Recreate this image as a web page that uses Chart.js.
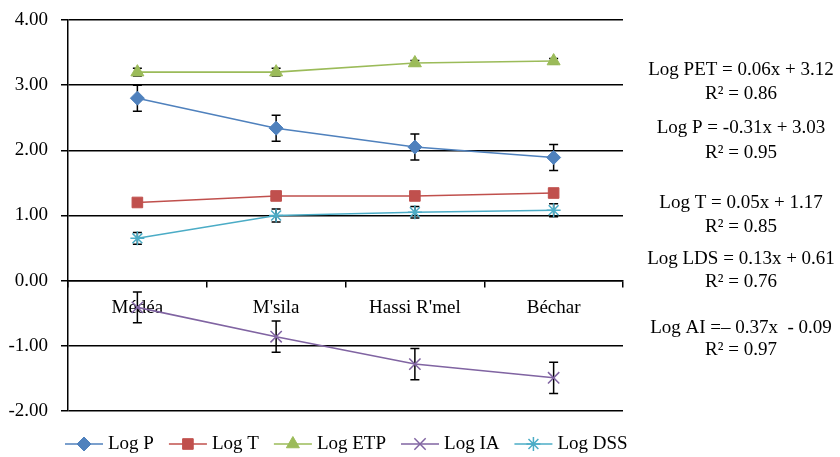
<!DOCTYPE html>
<html>
<head>
<meta charset="utf-8">
<script src="https://cdn.jsdelivr.net/npm/chart.js@4.4.0/dist/chart.umd.min.js"></script>
<style>
  html, body { margin: 0; padding: 0; background: #fff; }
  #wrap { width: 840px; height: 457px; }
</style>
</head>
<body>
<div id="wrap"><canvas id="chart"></canvas></div>
<script>
// ====== DATA ======
const sites = ["Médéa", "M'sila", "Hassi R'mel", "Béchar"];

const logP   = [2.80, 2.34, 2.05, 1.89];
const logT   = [1.20, 1.30, 1.30, 1.345];
const logETP = [3.20, 3.20, 3.34, 3.37];
const logIA  = [-0.41, -0.86, -1.28, -1.49];
const logDSS = [0.65, 1.00, 1.05, 1.08];

// error bar half-heights
const errP   = [0.20, 0.20, 0.20, 0.20];
const errT   = [0.03, 0.03, 0.03, 0.03];
const errETP = [0.06, 0.06, 0.04, 0.04];
const errIA  = [0.235, 0.24, 0.24, 0.24];
const errDSS = [0.09, 0.10, 0.09, 0.10];

const yTicks = [-2, -1, 0, 1, 2, 3, 4];

const equations = [
  "Log PET = 0.06x + 3.12", "R\u00B2 = 0.86",
  "Log P = -0.31x + 3.03", "R\u00B2 = 0.95",
  "Log T = 0.05x + 1.17", "R\u00B2 = 0.85",
  "Log LDS = 0.13x + 0.61", "R\u00B2 = 0.76",
  "Log AI =\u2013 0.37x  - 0.09", "R\u00B2 = 0.97"
];

// ====== STYLE ======
const FONT = "'Liberation Serif', 'Times New Roman', serif";
const eqY = [70, 94, 128, 153, 203, 227, 259, 282, 328, 350];

function series(label, data, err, color, style, radius, bw) {
  return {
    label: label,
    data: data,
    errors: err,
    borderColor: color,
    backgroundColor: color,
    borderWidth: 1.6,
    pointStyle: style,
    pointRadius: radius,
    pointHoverRadius: radius,
    pointBackgroundColor: color,
    pointBorderColor: color,
    pointBorderWidth: bw,
    tension: 0
  };
}

// ====== ERROR BARS ======
const errorBars = {
  id: "errorBars",
  beforeDatasetsDraw(chart) {
    const ctx = chart.ctx;
    const y = chart.scales.y;
    ctx.save();
    ctx.strokeStyle = "#000";
    ctx.lineWidth = 1.5;
    chart.data.datasets.forEach((ds, i) => {
      const meta = chart.getDatasetMeta(i);
      meta.data.forEach((pt, j) => {
        const v = ds.data[j], e = ds.errors[j];
        const top = y.getPixelForValue(v + e);
        const bot = y.getPixelForValue(v - e);
        ctx.beginPath();
        ctx.moveTo(pt.x, top); ctx.lineTo(pt.x, bot);
        ctx.moveTo(pt.x - 4.5, top); ctx.lineTo(pt.x + 4.5, top);
        ctx.moveTo(pt.x - 4.5, bot); ctx.lineTo(pt.x + 4.5, bot);
        ctx.stroke();
      });
    });
    ctx.restore();
  }
};

// ====== LEGEND (line + marker) and EQUATIONS ======
const extras = {
  id: "extras",
  afterDraw(chart) {
    const ctx = chart.ctx;
    ctx.save();
    ctx.font = "19px " + FONT;
    ctx.fillStyle = "#000";
    ctx.textBaseline = "middle";

    // legend
    let x = 65;
    const ly = 444;
    chart.data.datasets.forEach(ds => {
      ctx.strokeStyle = ds.borderColor;
      ctx.lineWidth = 1.6;
      ctx.beginPath();
      ctx.moveTo(x, ly); ctx.lineTo(x + 38, ly);
      ctx.stroke();
      ctx.fillStyle = ds.pointBackgroundColor;
      ctx.lineWidth = ds.pointBorderWidth;
      Chart.helpers.drawPoint(ctx, {
        pointStyle: ds.pointStyle, radius: ds.pointRadius,
        rotation: 0, borderWidth: ds.pointBorderWidth
      }, x + 19, ly);
      ctx.fillStyle = "#000";
      ctx.textAlign = "left";
      ctx.fillText(ds.label, x + 43, ly);
      x += 43 + ctx.measureText(ds.label).width + 15;
    });

    // trend equations
    ctx.textAlign = "center";
    equations.forEach((t, i) => ctx.fillText(t, 741, eqY[i]));
    ctx.restore();
  }
};

// ====== CHART ======
new Chart(document.getElementById("chart"), {
  type: "line",
  data: {
    labels: sites,
    datasets: [
      series("Log P", logP, errP, "#4F81BD", "rectRot", 7, 1),
      series("Log T", logT, errT, "#C0504D", "rect", 7.5, 1),
      series("Log ETP", logETP, errETP, "#9BBB59", "triangle", 7.5, 1),
      series("Log IA", logIA, errIA, "#8064A2", "crossRot", 8, 1.5),
      series("Log DSS", logDSS, errDSS, "#4BACC6", "star", 7, 1.5)
    ]
  },
  options: {
    responsive: true,
    maintainAspectRatio: false,
    animation: false,
    layout: { padding: { left: 0, right: 217, top: 20, bottom: 46 } },
    plugins: {
      legend: { display: false },
      tooltip: { enabled: false }
    },
    scales: {
      x: {
        position: { y: 0 },
        offset: true,
        border: { display: true, color: "#000", width: 1.5 },
        grid: {
          offset: true,
          drawOnChartArea: false,
          drawTicks: true,
          tickLength: 6,
          color: "#000",
          lineWidth: 1.5
        },
        ticks: {
          color: "#000",
          font: { family: FONT, size: 19 },
          padding: 10,
          maxRotation: 0
        }
      },
      y: {
        min: -2,
        max: 4,
        afterFit(scale) {
          scale.width = 68;
          scale.paddingTop = 0;
          scale.paddingBottom = 0;
        },
        afterBuildTicks(scale) { scale.ticks = yTicks.map(v => ({ value: v })); },
        border: { display: true, color: "#000", width: 1.5 },
        grid: {
          color: "#000",
          lineWidth: 1.5,
          drawTicks: true,
          tickLength: 7
        },
        ticks: {
          color: "#000",
          font: { family: FONT, size: 19 },
          padding: 13,
          callback: v => v.toFixed(2)
        }
      }
    }
  },
  plugins: [errorBars, extras]
});
</script>
</body>
</html>
